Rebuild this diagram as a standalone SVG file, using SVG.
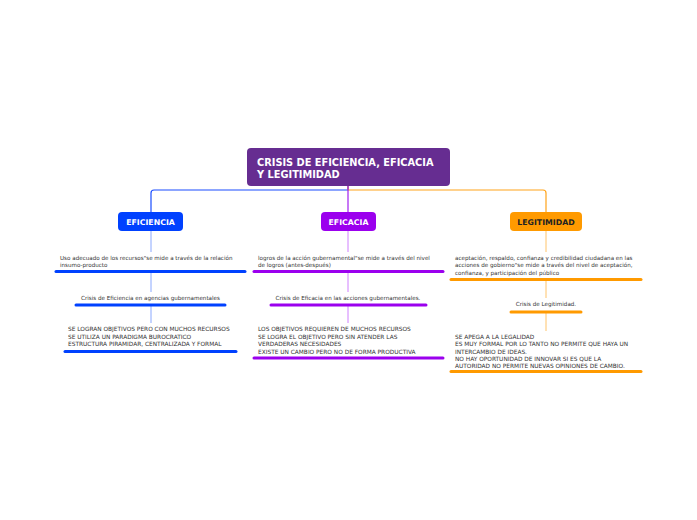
<svg xmlns="http://www.w3.org/2000/svg" width="697" height="520" viewBox="0 0 697 520">
<style>
.t{font-family:Verdana,"DejaVu Sans",sans-serif;font-size:5.6px;fill:#333}
.c{font-family:Verdana,"DejaVu Sans",sans-serif;font-size:5.85px;fill:#333}
.nb{font-family:Verdana,"DejaVu Sans",sans-serif;font-size:7.8px;font-weight:bold;text-anchor:middle}
.rt{font-family:Verdana,"DejaVu Sans",sans-serif;font-size:9.8px;font-weight:bold;fill:#fff}
.ub{stroke:#0041ff;stroke-width:3;stroke-linecap:round}
.up{stroke:#9b00ee;stroke-width:3;stroke-linecap:round}
.uo{stroke:#ff9a00;stroke-width:3;stroke-linecap:round}
.lb{stroke:#8aa8ff;stroke-width:1;fill:none}
.lp{stroke:#d080ff;stroke-width:1;fill:none}
.lo{stroke:#ffc46a;stroke-width:1;fill:none}
</style>
<rect width="697" height="520" fill="#fff"/>
<g id="connectors" fill="none">
<path d="M348 186 V190 H154 Q151 190 151 193 V212" stroke="#1a4dff" stroke-width="1.2"/>
<path d="M348 186 V190 H543 Q546 190 546 193 V212" stroke="#ffa31a" stroke-width="1.2"/>
<path d="M348 186 V212" stroke="#a21ef0" stroke-width="1.2"/>
<path class="lb" d="M151 231 V252 M151 272 V292 M151 306 V323"/>
<path class="lp" d="M348 231 V252 M348 272 V292 M348 306 V323"/>
<path class="lo" d="M546 231 V252 M546 280 V298 M546 313 V331"/>
</g>
<g id="root">
<rect x="247" y="148" width="203" height="38" rx="4" fill="#662d91"/>
<text class="rt" x="257" y="165.5">CRISIS DE EFICIENCIA, EFICACIA</text>
<text class="rt" x="257" y="177.5">Y LEGITIMIDAD</text>
</g>
<g id="eficiencia">
<rect x="118" y="212" width="65" height="19" rx="4" fill="#0041ff"/>
<text class="nb" x="150.5" y="224.5" fill="#fff">EFICIENCIA</text>
</g>
<g id="eficacia">
<rect x="321" y="212" width="55" height="19" rx="4" fill="#9b00ee"/>
<text class="nb" x="348.5" y="224.5" fill="#fff">EFICACIA</text>
</g>
<g id="legitimidad">
<rect x="510" y="212" width="72" height="19" rx="4" fill="#ff9a00"/>
<text class="nb" x="546" y="224.5" fill="#222">LEGITIMIDAD</text>
</g>
<g id="ef1">
<text class="t" x="60" y="259.5">Uso adecuado de los recursos"se mide a través de la relación</text>
<text class="t" x="60" y="267">insumo-producto</text>
<line class="ub" x1="56" y1="271.5" x2="245" y2="271.5"/>
</g>
<g id="ef2">
<text class="t" x="150.5" y="299.5" text-anchor="middle">Crisis de Eficiencia en agencias gubernamentales</text>
<line class="ub" x1="76" y1="305" x2="225" y2="305"/>
</g>
<g id="ef3">
<text class="c" x="68" y="331">SE LOGRAN OBJETIVOS PERO CON MUCHOS RECURSOS</text>
<text class="c" x="68" y="338.5">SE UTILIZA UN PARADIGMA BUROCRATICO</text>
<text class="c" x="68" y="346">ESTRUCTURA PIRAMIDAR, CENTRALIZADA Y FORMAL</text>
<line class="ub" x1="65" y1="351.5" x2="236" y2="351.5"/>
</g>
<g id="ec1">
<text class="t" x="258" y="259.5">logros de la acción gubernamental"se mide a través del nivel</text>
<text class="t" x="258" y="267">de logros (antes-después)</text>
<line class="up" x1="254" y1="271.5" x2="443" y2="271.5"/>
</g>
<g id="ec2">
<text class="t" x="348" y="299.5" text-anchor="middle">Crisis de Eficacia en las acciones gubernamentales.</text>
<line class="up" x1="271" y1="305" x2="426" y2="305"/>
</g>
<g id="ec3">
<text class="c" x="258" y="331">LOS OBJETIVOS REQUIEREN DE MUCHOS RECURSOS</text>
<text class="c" x="258" y="338.5">SE LOGRA EL OBJETIVO PERO SIN ATENDER LAS</text>
<text class="c" x="258" y="346">VERDADERAS NECESIDADES</text>
<text class="c" x="258" y="353.5">EXISTE UN CAMBIO PERO NO DE FORMA PRODUCTIVA</text>
<line class="up" x1="254" y1="358" x2="443" y2="358"/>
</g>
<g id="lg1">
<text class="t" x="455" y="259.5">aceptación, respaldo, confianza y credibilidad ciudadana en las</text>
<text class="t" x="455" y="267">acciones de gobierno"se mide a través del nivel de aceptación,</text>
<text class="t" x="455" y="274.5">confianza, y participación del público</text>
<line class="uo" x1="451" y1="279.5" x2="641" y2="279.5"/>
</g>
<g id="lg2">
<text class="t" x="546" y="306" text-anchor="middle">Crisis de Legitimidad.</text>
<line class="uo" x1="511" y1="312" x2="581" y2="312"/>
</g>
<g id="lg3">
<text class="c" x="455" y="338.5">SE APEGA A LA LEGALIDAD</text>
<text class="c" x="455" y="346">ES MUY FORMAL POR LO TANTO NO PERMITE QUE HAYA UN</text>
<text class="c" x="455" y="353.5">INTERCAMBIO DE IDEAS.</text>
<text class="c" x="455" y="361">NO HAY OPORTUNIDAD DE INNOVAR SI ES QUE LA</text>
<text class="c" x="455" y="368">AUTORIDAD NO PERMITE NUEVAS OPINIONES DE CAMBIO.</text>
<line class="uo" x1="451" y1="371.5" x2="641" y2="371.5"/>
</g>
</svg>
